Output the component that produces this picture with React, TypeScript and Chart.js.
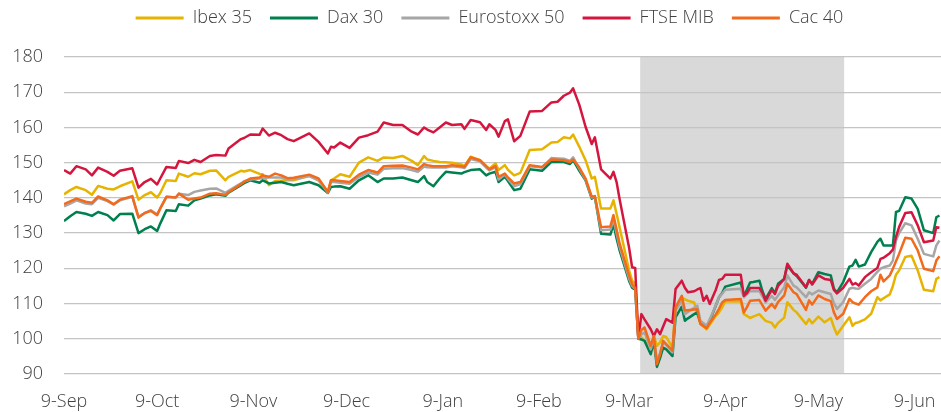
import React, { useEffect, useRef } from 'react';
import { Chart, registerables } from 'chart.js';

Chart.register(...registerables);

// Calendar days counted from 9-Sep-2019
const dayOffsets = [
  0, 2, 4, 7, 9, 11, 14, 16, 18, 22, 24, 26, 28, 30, 31, 33, 36, 37, 40, 42, 44, 47, 49, 52, 53, 57, 58, 60, 63, 64, 66, 68, 70, 72,
  74, 79, 82, 85, 86, 87, 89, 92, 95, 98, 101, 103, 106, 109, 112, 114, 116, 117, 119, 121, 123, 125, 128, 129, 131, 134, 136, 137, 139, 140,
  142, 143, 145, 147, 150, 154, 157, 159, 161, 163, 164, 166, 168, 170, 171, 173, 176, 177, 178, 179, 182, 183, 184,
  185, 186, 187, 189, 190, 191, 192, 193, 194, 196, 197, 199, 200, 201, 203, 204, 205, 206, 207, 208, 210, 211, 212, 213, 218, 219, 220, 221, 222, 224, 225, 226, 228, 229, 230, 232,
  233, 235, 236, 239, 240, 241, 243, 245, 247, 248, 249, 251, 253, 254, 255, 256, 258, 260, 262, 263, 264, 266, 267, 268, 269, 271, 273, 275, 277, 280, 281, 282,
];

const ibex35 = [
  141.0, 142.2, 143.1, 142.2, 140.9, 143.4, 142.6, 142.4, 143.3, 144.7, 139.5, 140.8, 141.6, 140.1, 141.4, 145.0, 144.8, 146.9, 146.0, 147.0, 146.7, 147.7, 147.8, 145.0, 146.0, 147.7, 147.5, 147.9, 146.8, 146.7, 143.6, 144.8, 144.9, 145.0,
  145.0, 146.3, 145.0, 141.7, 145.0, 145.5, 146.7, 146.0, 150.0, 151.5, 150.5, 151.5, 151.3, 151.9, 150.5, 149.3, 151.9, 150.9, 150.5, 150.2, 150.1, 150.0, 149.5, 149.0, 151.7, 150.7, 149.0, 148.3, 149.8, 147.9,
  149.3, 148.0, 146.4, 147.1, 153.6, 153.8, 155.7, 155.9, 157.2, 156.9, 158.0, 154.5, 150.7, 145.5, 146.0, 137.0, 137.0, 139.3, 135.5, 131.5, 119.5, 116.5, 115.6,
  101.5, 100.4, 99.5, 97.5, 100.8, 98.0, 99.0, 100.8, 100.5, 97.5, 108.9, 111.8, 111.2, 110.8, 110.3, 107.0, 104.2, 103.5, 102.7, 104.0, 106.5, 107.5, 108.9, 110.6, 110.6, 107.0, 106.5, 105.9, 106.3, 107.0, 106.0, 105.1, 104.5, 103.2, 104.5, 106.0,
  110.4, 108.2, 107.5, 104.2, 105.6, 104.4, 106.3, 104.7, 105.9, 103.3, 101.2, 103.7, 106.1, 103.7, 104.5, 104.7, 105.5, 107.1, 111.8, 110.9, 111.5, 112.6, 115.0, 118.2, 119.4, 123.2, 123.6, 119.4, 113.9, 113.5, 117.0, 117.5,
];

const dax30 = [
  133.4, 134.8, 136.0, 135.5, 134.9, 136.0, 135.1, 133.6, 135.4, 135.5, 130.0, 131.1, 131.9, 130.6, 132.7, 136.5, 136.3, 138.2, 137.8, 139.3, 139.8, 140.7, 141.0, 140.6, 141.5, 143.6, 144.2, 145.0, 144.3, 145.0, 144.1, 144.3, 144.5, 144.0,
  143.6, 144.5, 143.6, 141.4, 143.1, 143.2, 143.3, 142.6, 145.0, 146.4, 144.5, 145.5, 145.5, 145.8, 145.0, 144.5, 146.2, 144.5, 143.3, 145.5, 147.4, 147.2, 146.9, 147.3, 147.9, 148.1, 146.4, 146.9, 147.4, 144.5,
  146.0, 144.8, 142.2, 142.6, 148.1, 147.7, 150.2, 150.2, 150.2, 149.6, 150.7, 147.7, 145.0, 139.8, 140.3, 129.8, 129.6, 132.5, 128.5, 125.0, 116.5, 114.5, 113.9,
  100.0, 99.8, 99.4, 95.6, 99.4, 92.0, 94.5, 97.5, 97.0, 95.1, 106.1, 109.1, 105.1, 105.8, 107.0, 107.5, 104.6, 104.0, 103.4, 105.0, 109.5, 111.8, 113.0, 114.8, 116.0, 112.2, 114.0, 116.0, 116.1, 116.5, 113.5, 111.3, 114.4, 112.9, 115.6, 117.0,
  120.8, 118.6, 117.8, 114.5, 116.7, 115.6, 118.9, 118.4, 118.0, 114.2, 113.2, 116.1, 120.5, 120.8, 122.4, 120.5, 121.1, 124.6, 127.5, 128.4, 126.5, 126.5, 126.5, 136.0, 136.3, 140.2, 139.8, 136.9, 130.8, 130.0, 134.5, 135.0,
];

const eurostoxx50 = [
  137.6, 138.4, 139.3, 138.4, 138.2, 140.0, 139.1, 138.1, 139.3, 140.3, 134.6, 135.7, 136.5, 135.3, 137.0, 140.3, 140.1, 141.2, 140.8, 141.7, 142.1, 142.6, 142.7, 141.4, 142.0, 144.1, 144.6, 145.2, 145.5, 145.7, 145.8, 145.8, 145.8, 145.2,
  145.3, 146.2, 145.0, 141.5, 144.6, 144.5, 144.3, 144.0, 145.9, 147.2, 146.6, 148.3, 148.4, 148.5, 147.9, 147.4, 148.9, 148.7, 148.6, 148.6, 148.6, 149.0, 148.7, 148.5, 151.0, 150.4, 148.6, 147.8, 148.7, 145.2,
  146.6, 145.4, 143.3, 143.9, 149.0, 148.6, 151.3, 151.2, 151.1, 150.5, 151.5, 148.3, 145.2, 140.1, 140.3, 130.8, 131.0, 133.8, 130.0, 126.0, 117.2, 115.0, 114.2,
  100.0, 101.2, 101.8, 97.0, 100.4, 93.7, 96.0, 98.9, 98.2, 96.1, 108.0, 110.8, 107.0, 107.6, 108.8, 109.4, 105.1, 104.4, 103.7, 105.5, 109.5, 111.8, 112.8, 113.9, 114.2, 111.8, 112.6, 113.5, 113.5, 113.5, 112.0, 110.3, 112.2, 111.0, 112.3, 114.6,
  118.0, 115.1, 114.6, 111.8, 113.2, 112.6, 113.7, 113.2, 112.7, 110.1, 108.5, 110.4, 114.2, 114.5, 114.3, 114.2, 115.6, 117.0, 119.0, 119.9, 120.3, 120.8, 122.2, 127.9, 130.0, 132.8, 132.2, 128.4, 124.1, 123.4, 126.5, 127.9,
];

const ftseMib = [
  147.9, 146.9, 149.0, 148.1, 146.4, 148.6, 147.4, 146.3, 147.7, 148.4, 142.9, 144.5, 145.4, 143.8, 145.5, 148.8, 148.5, 150.5, 149.9, 150.8, 150.2, 151.9, 152.2, 152.0, 154.0, 156.7, 157.0, 158.0, 157.9, 159.7, 157.7, 158.5, 157.8, 156.7,
  156.1, 158.3, 155.9, 152.6, 154.5, 154.3, 155.7, 154.2, 157.1, 157.8, 158.8, 161.4, 160.7, 160.7, 158.8, 158.0, 160.0, 159.4, 158.6, 160.0, 161.4, 160.7, 160.9, 159.6, 162.1, 161.5, 159.3, 160.9, 159.3, 157.4,
  161.8, 162.3, 156.1, 157.6, 164.5, 164.7, 167.1, 167.3, 169.0, 169.9, 171.1, 166.4, 160.2, 155.3, 157.2, 148.1, 145.5, 147.4, 144.5, 139.5, 126.0, 120.3, 120.1,
  100.2, 107.0, 105.5, 102.7, 100.8, 102.7, 101.3, 103.5, 105.6, 104.6, 114.1, 116.5, 114.5, 113.2, 113.5, 114.0, 114.4, 110.8, 112.2, 109.9, 114.0, 116.7, 117.0, 118.2, 118.2, 112.2, 113.0, 114.4, 114.4, 114.4, 113.0, 110.8, 113.9, 112.7, 115.0, 117.0,
  121.3, 118.6, 118.2, 114.6, 116.7, 115.4, 118.0, 117.0, 116.7, 113.9, 112.9, 114.5, 117.0, 115.4, 115.8, 115.1, 117.5, 118.9, 120.1, 122.7, 123.0, 124.3, 125.3, 128.9, 131.7, 135.7, 135.9, 132.2, 127.4, 127.9, 131.7, 131.5,
];

const cac40 = [
  138.2, 139.0, 139.8, 138.9, 138.6, 140.4, 139.3, 138.2, 139.5, 140.5, 134.4, 135.7, 136.3, 135.1, 137.0, 140.3, 140.1, 141.2, 139.5, 139.8, 140.1, 141.2, 141.3, 140.8, 141.6, 143.9, 144.6, 145.5, 145.8, 146.4, 146.0, 146.9, 146.4, 145.6,
  145.7, 146.6, 145.5, 141.7, 145.0, 145.0, 144.8, 144.5, 146.6, 147.9, 147.2, 149.0, 149.1, 149.2, 148.6, 148.1, 149.6, 149.3, 149.0, 149.0, 149.0, 149.3, 149.0, 148.8, 151.5, 150.7, 149.0, 148.1, 149.0, 146.0,
  146.9, 145.8, 144.1, 144.5, 149.3, 148.8, 150.9, 150.8, 150.7, 150.2, 150.9, 148.6, 145.5, 140.3, 140.5, 131.7, 131.9, 135.1, 131.0, 127.0, 118.0, 115.5, 114.4,
  100.0, 102.5, 103.2, 98.0, 100.8, 92.8, 95.5, 99.4, 98.5, 96.6, 108.9, 112.2, 108.0, 108.1, 108.3, 108.4, 104.2, 103.6, 103.0, 104.5, 107.0, 108.5, 110.3, 111.0, 111.3, 107.5, 109.0, 110.8, 110.9, 111.0, 109.5, 108.0, 109.9, 108.7, 110.4, 112.3,
  115.6, 113.2, 112.7, 108.2, 110.9, 109.7, 112.3, 111.3, 110.7, 107.5, 105.6, 107.1, 111.3, 110.4, 110.0, 109.7, 111.8, 113.5, 114.6, 118.2, 116.3, 118.0, 119.9, 122.0, 124.1, 128.7, 128.4, 125.1, 119.9, 119.2, 122.2, 123.4,
];

const seriesNames = ['Ibex 35', 'Dax 30', 'Eurostoxx 50', 'FTSE MIB', 'Cac 40'];
const tickDays = [0, 30, 61, 91, 122, 153, 182, 213, 243, 274];
const tickLabels = ['9-Sep', '9-Oct', '9-Nov', '9-Dec', '9-Jan', '9-Feb', '9-Mar', '9-Apr', '9-May', '9-Jun'];
const shadeFromDay = 185.6;
const shadeToDay = 251.3;

const COLORS = ['#e6b400', '#00804f', '#a6a6a6', '#d4163f', '#f26a1b'];
const TEXT = '#404040';
const FONT = { size: 18, weight: '300' as any };

const toPoints = (vals: number[]) => dayOffsets.map((d, i) => ({ x: d, y: vals[i] }));

const shadePlugin = {
  id: 'shade',
  beforeDraw(chart: any) {
    const { ctx, chartArea, scales } = chart;
    const x0 = scales.x.getPixelForValue(shadeFromDay);
    const x1 = scales.x.getPixelForValue(shadeToDay);
    ctx.save();
    ctx.fillStyle = '#d9d9d9';
    ctx.fillRect(x0, chartArea.top, x1 - x0, chartArea.bottom - chartArea.top);
    ctx.restore();
  },
};

const LEGEND_PAD = 18;
const legendShiftPlugin = {
  id: 'legendShift',
  afterLayout(chart: any) {
    const lg = chart.legend;
    if (!lg) return;
    const dy = 18 - (lg.top + LEGEND_PAD + 9);
    lg.top += dy;
    lg.bottom += dy;
    const dx = 489.5 - (lg.left + lg.right) / 2;
    lg.left += dx;
    lg.right += dx;
  },
};

export default function App() {
  const ref = useRef<HTMLCanvasElement>(null);

  useEffect(() => {
    document.body.style.margin = '0';
    Chart.defaults.font.family = "'Open Sans', sans-serif";
    Chart.defaults.font.size = 18;
    Chart.defaults.color = TEXT;

    const values = [ibex35, dax30, eurostoxx50, ftseMib, cac40];
    const orders = [4, 3, 2, 1, 0];
    const datasets = values.map((vals, i) => ({
      label: seriesNames[i],
      data: toPoints(vals),
      borderColor: COLORS[i],
      backgroundColor: COLORS[i],
      borderWidth: 2.5,
      pointRadius: 0,
      tension: 0,
      borderJoinStyle: 'round' as const,
      fill: false,
      order: orders[i],
    }));

    const chart = new Chart(ref.current as HTMLCanvasElement, {
      type: 'line',
      data: { datasets },
      options: {
        animation: false,
        responsive: true,
        maintainAspectRatio: false,
        events: [],
        layout: { padding: { top: 11, left: 12, right: 0, bottom: 0 } },
        scales: {
          x: {
            type: 'linear',
            min: 0,
            max: 282.5,
            grid: { display: false, drawTicks: false },
            border: { display: false },
            afterBuildTicks: (axis: any) => {
              axis.ticks = tickDays.map((v) => ({ value: v }));
            },
            afterFit: (axis: any) => {
              axis.height = 38;
              axis.paddingRight = 0;
              axis.paddingLeft = 0;
            },
            ticks: {
              autoSkip: false,
              maxRotation: 0,
              minRotation: 0,
              padding: 17,
              color: TEXT,
              font: FONT,
              callback: (_v: any, i: number) => tickLabels[i],
            },
          },
          y: {
            min: 90,
            max: 180,
            grid: { color: '#c4c4c4', lineWidth: 1.3, drawTicks: false },
            border: { display: false },
            afterFit: (axis: any) => {
              axis.width = 52;
            },
            ticks: { stepSize: 10, padding: 21, color: TEXT, font: FONT },
          },
        },
        plugins: {
          tooltip: { enabled: false },
          legend: {
            display: true,
            position: 'top',
            labels: {
              boxWidth: 48,
              boxHeight: 3,
              padding: LEGEND_PAD,
              color: TEXT,
              font: FONT,
              generateLabels: (ch: any) =>
                ch.data.datasets.map((ds: any, i: number) => ({
                  text: ds.label,
                  fillStyle: ds.borderColor,
                  strokeStyle: ds.borderColor,
                  lineWidth: 0,
                  hidden: false,
                  datasetIndex: i,
                  fontColor: TEXT,
                })),
            },
          },
        },
      },
      plugins: [shadePlugin, legendShiftPlugin],
    } as any);

    return () => chart.destroy();
  }, []);

  return (
    <div style={{ position: 'absolute', left: 0, top: 0, width: 941, height: 412 }}>
      <canvas ref={ref} />
    </div>
  );
}
